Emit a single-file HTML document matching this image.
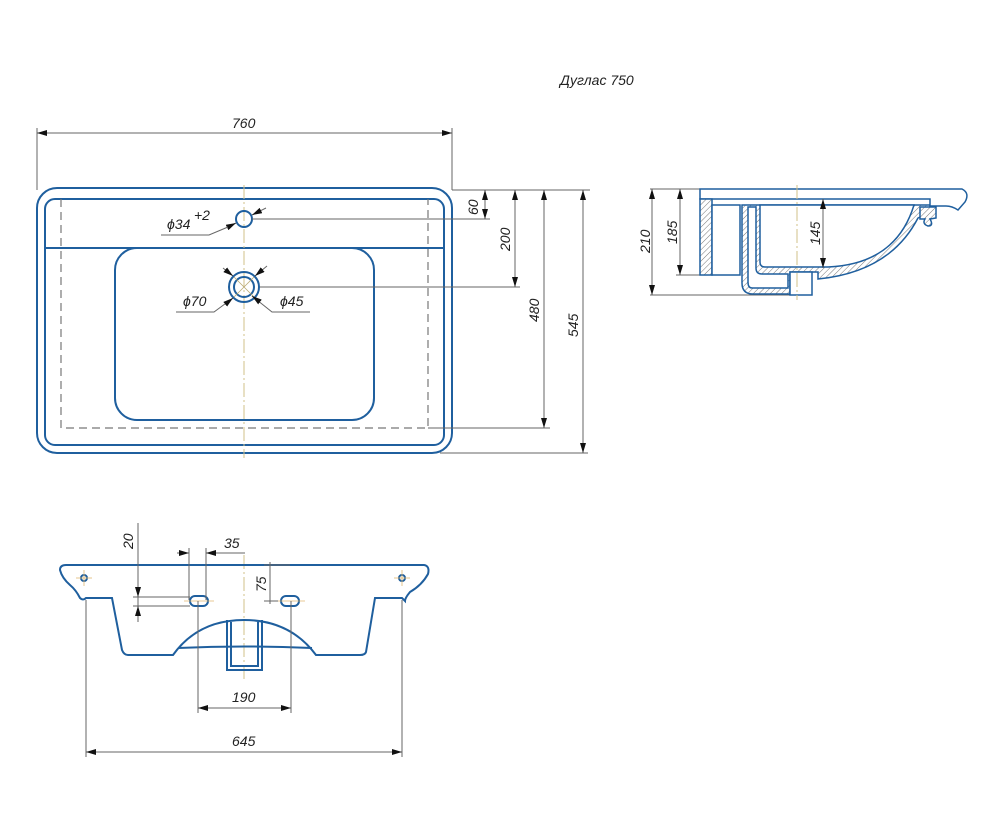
<!DOCTYPE html>
<html><head><meta charset="utf-8"><style>
html,body{margin:0;padding:0;background:#fff;width:1000px;height:826px;overflow:hidden}
svg{display:block}
text{font-family:"Liberation Sans","DejaVu Sans",sans-serif;font-style:italic;fill:#222;font-size:14px}
.b{fill:none;stroke:#1f5f9e;stroke-width:2}
.d{fill:none;stroke:#666;stroke-width:1}
.c{fill:none;stroke:#d2c08a;stroke-width:1;stroke-dasharray:14 3 2 3}
.h{fill:url(#hatch);stroke:#1f5f9e;stroke-width:1.5}
.w{fill:#fff;stroke:#1f5f9e;stroke-width:1.5}
</style></head><body>
<svg width="1000" height="826" viewBox="0 0 1000 826" xmlns="http://www.w3.org/2000/svg">
<defs>
<marker id="a" viewBox="0 0 10 6" refX="10" refY="3" markerWidth="10" markerHeight="6" orient="auto-start-reverse" markerUnits="userSpaceOnUse"><path d="M0,0 L10,3 L0,6z" fill="#111"/></marker>
<pattern id="hatch" width="4" height="4" patternUnits="userSpaceOnUse" patternTransform="rotate(45)"><rect width="4" height="4" fill="#fff"/><line x1="0" y1="0" x2="0" y2="4" stroke="#777" stroke-width="1"/></pattern>
</defs>

<text x="560" y="85" font-size="17">Дуглас 750</text>

<!-- TOP VIEW -->
<rect class="b" x="37" y="188" width="415" height="265" rx="20"/>
<rect class="b" x="45" y="199" width="399" height="246" rx="10"/>
<line class="b" x1="45" y1="248" x2="444" y2="248"/>
<rect class="b" x="115" y="248" width="259" height="172" rx="22"/>
<path d="M61,199 V428 H428 V199" fill="none" stroke="#777" stroke-width="1.2" stroke-dasharray="8 5"/>
<line class="c" x1="244" y1="185" x2="244" y2="458"/>
<circle class="b" cx="244" cy="219" r="8"/>
<circle class="b" cx="244" cy="287" r="15"/>
<circle class="b" cx="244" cy="287" r="10"/>
<line x1="234" y1="277" x2="254" y2="297" stroke="#b9a870" stroke-width="0.8"/>
<line x1="254" y1="277" x2="234" y2="297" stroke="#b9a870" stroke-width="0.8"/>
<line class="d" x1="236" y1="223" x2="228" y2="227" marker-start="url(#a)"/>
<line class="d" x1="252" y1="215" x2="266" y2="208" marker-start="url(#a)"/>
<polyline class="d" points="228,227 209,235 161,235"/>
<text x="167" y="229">ϕ34</text><text x="194" y="220" font-size="9">+2</text>
<line class="d" x1="233" y1="276" x2="223" y2="268" marker-start="url(#a)"/>
<line class="d" x1="255" y1="276" x2="267" y2="266" marker-start="url(#a)"/>
<polyline class="d" points="233,298 214,312 176,312" />
<line class="d" x1="233" y1="298" x2="228" y2="302" marker-start="url(#a)"/>
<polyline class="d" points="252,296 272,312 310,312"/>
<line class="d" x1="252" y1="296" x2="256" y2="299" marker-start="url(#a)"/>
<text x="183" y="306">ϕ70</text><text x="280" y="306">ϕ45</text>

<line class="d" x1="37" y1="128" x2="37" y2="190"/>
<line class="d" x1="452" y1="128" x2="452" y2="190"/>
<line class="d" x1="37" y1="133" x2="452" y2="133" marker-start="url(#a)" marker-end="url(#a)"/>
<text x="232" y="128">760</text>
<line class="d" x1="452" y1="190" x2="590" y2="190"/>
<line class="d" x1="252" y1="219" x2="490" y2="219"/>
<line class="d" x1="260" y1="287" x2="520" y2="287"/>
<line class="d" x1="428" y1="428" x2="550" y2="428"/>
<line class="d" x1="440" y1="453" x2="588" y2="453"/>
<line class="d" x1="485" y1="190" x2="485" y2="219" marker-start="url(#a)" marker-end="url(#a)"/>
<line class="d" x1="515" y1="190" x2="515" y2="287" marker-start="url(#a)" marker-end="url(#a)"/>
<line class="d" x1="544" y1="190" x2="544" y2="428" marker-start="url(#a)" marker-end="url(#a)"/>
<line class="d" x1="583" y1="190" x2="583" y2="453" marker-start="url(#a)" marker-end="url(#a)"/>
<text transform="translate(478,215) rotate(-90)">60</text>
<text transform="translate(510,251) rotate(-90)">200</text>
<text transform="translate(539,322) rotate(-90)">480</text>
<text transform="translate(578,337) rotate(-90)">545</text>

<!-- SIDE VIEW -->
<line class="d" x1="650" y1="189" x2="705" y2="189"/>
<line class="d" x1="676" y1="275" x2="705" y2="275"/>
<line class="d" x1="650" y1="295" x2="790" y2="295"/>
<line class="d" x1="652" y1="189" x2="652" y2="295" marker-start="url(#a)" marker-end="url(#a)"/>
<line class="d" x1="680" y1="189" x2="680" y2="275" marker-start="url(#a)" marker-end="url(#a)"/>
<text transform="translate(650,253) rotate(-90)">210</text>
<text transform="translate(677,244) rotate(-90)">185</text>
<path class="h" d="M742,205 L742,283 Q742,294 753,294 L790,294 L790,272 L818,272 L818,279 Q890,272 918,218 L930,212 L930,205 Z"/>
<path class="w" d="M748,207 L756,207 L756,268 Q756,274 762,274 L788,274 L788,288 L752,288 Q748,288 748,282 Z" stroke-width="1"/>
<path class="w" d="M760,205 L914,205 Q896,264 828,267 L765,267 Q760,267 760,262 Z"/>
<path class="w" d="M700,189 H962 Q970,193 965,202 L958,210 Q952,206 946,206 L930,206 L930,199 H700 Z"/>
<rect class="h" x="700" y="199" width="12" height="76"/>
<rect class="w" x="712" y="205" width="28" height="70"/>
<rect class="w" x="790" y="272" width="22" height="23"/>
<path class="h" d="M920,207 H936 V218 L930,219 Q934,226 928,226 Q922,224 925,219 L920,219 Z" stroke-width="1"/>
<line class="c" x1="797" y1="185" x2="797" y2="300"/>
<line class="d" x1="823" y1="199" x2="823" y2="268" marker-start="url(#a)" marker-end="url(#a)"/>
<text transform="translate(820,245) rotate(-90)">145</text>

<!-- FRONT VIEW -->
<line class="c" x1="244" y1="555" x2="244" y2="680"/>
<path class="b" d="M66,565 H424 Q430,566 428,574 Q422,585 410,592 Q405,598 405,601 L402,598 H375 L366,652 Q365,655 360,655 H316 Q290,620 244,620 Q198,620 173,655 H128 Q124,655 122,650 L112,598 H86 Q83,601 80,598 Q76,590 70,585 Q62,578 60,570 Q60,565 66,565 Z"/>
<path class="b" d="M178,648 Q244,645 312,648" stroke-width="1.5"/>
<path class="b" d="M227,620 V670 H262 V620 M231,622 V666 H258 V622" stroke-width="1.5"/>
<rect class="b" x="190" y="596" width="18" height="10" rx="5" stroke-width="1.5"/>
<rect class="b" x="281" y="596" width="18" height="10" rx="5" stroke-width="1.5"/>
<circle class="b" cx="84" cy="578" r="3" stroke-width="1.2"/>
<circle class="b" cx="402" cy="578" r="3" stroke-width="1.2"/>
<g stroke="#e0b870" stroke-width="0.8">
<line x1="76" y1="578" x2="92" y2="578"/><line x1="84" y1="570" x2="84" y2="586"/>
<line x1="394" y1="578" x2="410" y2="578"/><line x1="402" y1="570" x2="402" y2="586"/>
<line x1="184" y1="601" x2="214" y2="601"/><line x1="275" y1="601" x2="305" y2="601"/>
</g>
<line class="d" x1="138" y1="523" x2="138" y2="622"/>
<line class="d" x1="133" y1="597" x2="190" y2="597"/>
<line class="d" x1="133" y1="606" x2="190" y2="606"/>
<line class="d" x1="138" y1="586" x2="138" y2="597" marker-end="url(#a)"/>
<line class="d" x1="138" y1="617" x2="138" y2="606" marker-end="url(#a)"/>
<text transform="translate(133,549) rotate(-90)">20</text>
<line class="d" x1="189" y1="548" x2="189" y2="600"/>
<line class="d" x1="206" y1="548" x2="206" y2="600"/>
<line class="d" x1="177" y1="553" x2="189" y2="553" marker-end="url(#a)"/>
<line class="d" x1="245" y1="553" x2="206" y2="553" marker-end="url(#a)"/>
<text x="224" y="548">35</text>
<line class="d" x1="270" y1="562" x2="270" y2="604"/>
<line class="d" x1="264" y1="565" x2="290" y2="565"/>
<line class="d" x1="264" y1="601" x2="278" y2="601"/>
<text transform="translate(266,592) rotate(-90)">75</text>
<line class="d" x1="198" y1="601" x2="198" y2="713"/>
<line class="d" x1="291" y1="601" x2="291" y2="713"/>
<line class="d" x1="198" y1="708" x2="291" y2="708" marker-start="url(#a)" marker-end="url(#a)"/>
<text x="232" y="702">190</text>
<line class="d" x1="86" y1="600" x2="86" y2="757"/>
<line class="d" x1="402" y1="600" x2="402" y2="757"/>
<line class="d" x1="86" y1="752" x2="402" y2="752" marker-start="url(#a)" marker-end="url(#a)"/>
<text x="232" y="746">645</text>
</svg>
</body></html>
